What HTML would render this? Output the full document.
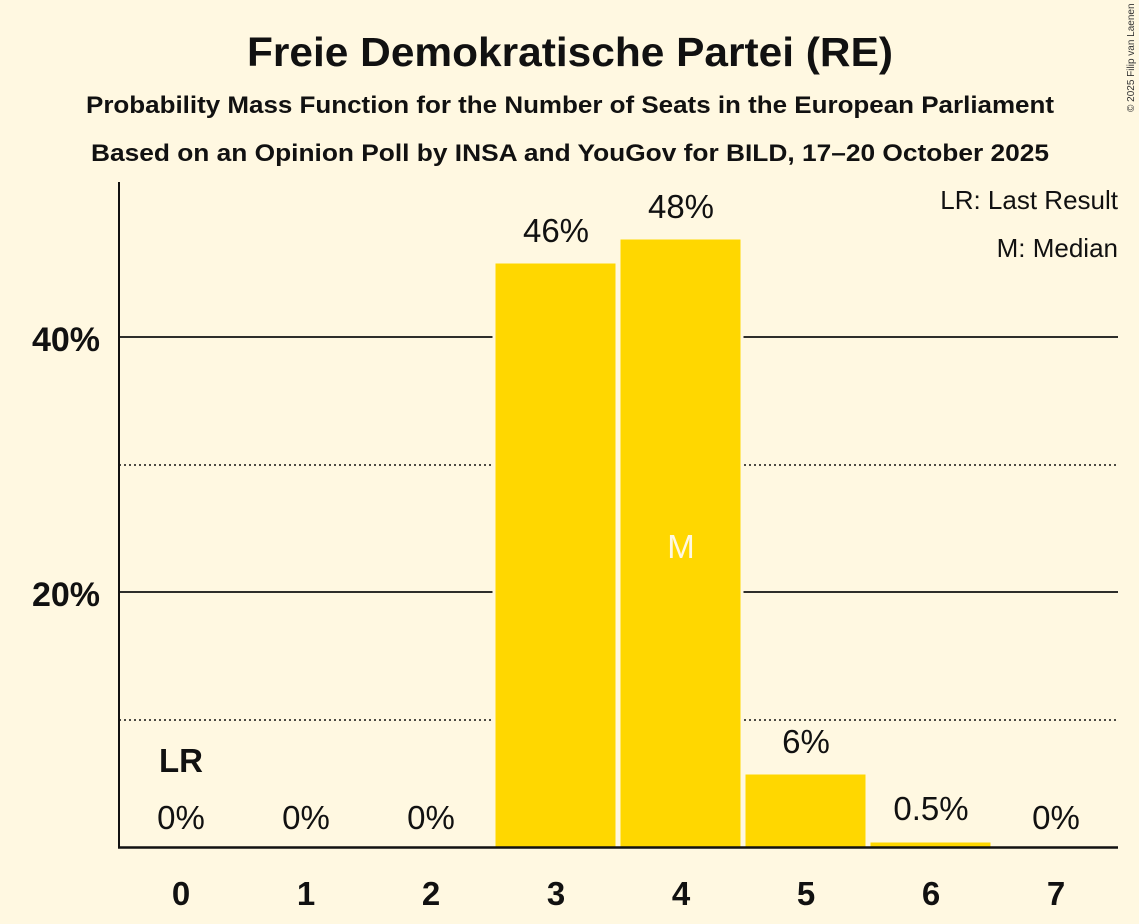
<!DOCTYPE html>
<html><head><meta charset="utf-8"><style>
html,body{margin:0;padding:0;background:#fff8e1;}
svg{display:block;font-family:"Liberation Sans",sans-serif;}
</style></head><body>
<svg width="1139" height="924" viewBox="0 0 1139 924" xmlns="http://www.w3.org/2000/svg">
<rect width="1139" height="924" fill="#fff8e1"/>
<text x="570" y="66" text-anchor="middle" font-size="41" font-weight="bold" fill="#111" textLength="646" lengthAdjust="spacingAndGlyphs">Freie Demokratische Partei (RE)</text>
<text x="570" y="113" text-anchor="middle" font-size="24" font-weight="bold" fill="#111" textLength="968" lengthAdjust="spacingAndGlyphs">Probability Mass Function for the Number of Seats in the European Parliament</text>
<text x="570" y="161" text-anchor="middle" font-size="24" font-weight="bold" fill="#111" textLength="958" lengthAdjust="spacingAndGlyphs">Based on an Opinion Poll by INSA and YouGov for BILD, 17–20 October 2025</text>
<text transform="translate(1134,112) rotate(-90)" font-size="10" fill="#333">© 2025 Filip van Laenen</text>
<g stroke="#111" stroke-width="1.5" stroke-dasharray="2,3">
<line x1="119" y1="465" x2="1118" y2="465"/>
<line x1="119" y1="720" x2="1118" y2="720"/>
</g>
<g stroke="#111" stroke-width="1.8">
<line x1="119" y1="337" x2="1118" y2="337"/>
<line x1="119" y1="592" x2="1118" y2="592"/>
</g>
<g fill="#ffd700" stroke="#fff8e1" stroke-width="3">
<rect x="494" y="262" width="123" height="586"/>
<rect x="619" y="238" width="123" height="610"/>
<rect x="744" y="773" width="123" height="75"/>
<rect x="869" y="841" width="123" height="7"/>
</g>
<line x1="119" y1="182" x2="119" y2="848" stroke="#111" stroke-width="2"/>
<line x1="118" y1="847.5" x2="1118" y2="847.5" stroke="#111" stroke-width="2.5"/>
<g font-size="34" font-weight="bold" fill="#111" text-anchor="end">
<text x="100" y="351">40%</text>
<text x="100" y="606">20%</text>
</g>
<g font-size="33" font-weight="bold" fill="#111" text-anchor="middle">
<text x="181" y="905">0</text><text x="306" y="905">1</text><text x="431" y="905">2</text><text x="556" y="905">3</text><text x="681" y="905">4</text><text x="806" y="905">5</text><text x="931" y="905">6</text><text x="1056" y="905">7</text>
</g>
<g font-size="33" fill="#111" text-anchor="middle">
<text x="181" y="829">0%</text><text x="306" y="829">0%</text><text x="431" y="829">0%</text>
<text x="556" y="242">46%</text><text x="681" y="218">48%</text>
<text x="806" y="753">6%</text><text x="931" y="820">0.5%</text><text x="1056" y="829">0%</text>
<text x="181" y="772" font-weight="bold">LR</text>
<text x="681" y="558" fill="#fff8e1">M</text>
</g>
<g font-size="26" fill="#111" text-anchor="end">
<text x="1118" y="209">LR: Last Result</text>
<text x="1118" y="257">M: Median</text>
</g>
</svg>
</body></html>
